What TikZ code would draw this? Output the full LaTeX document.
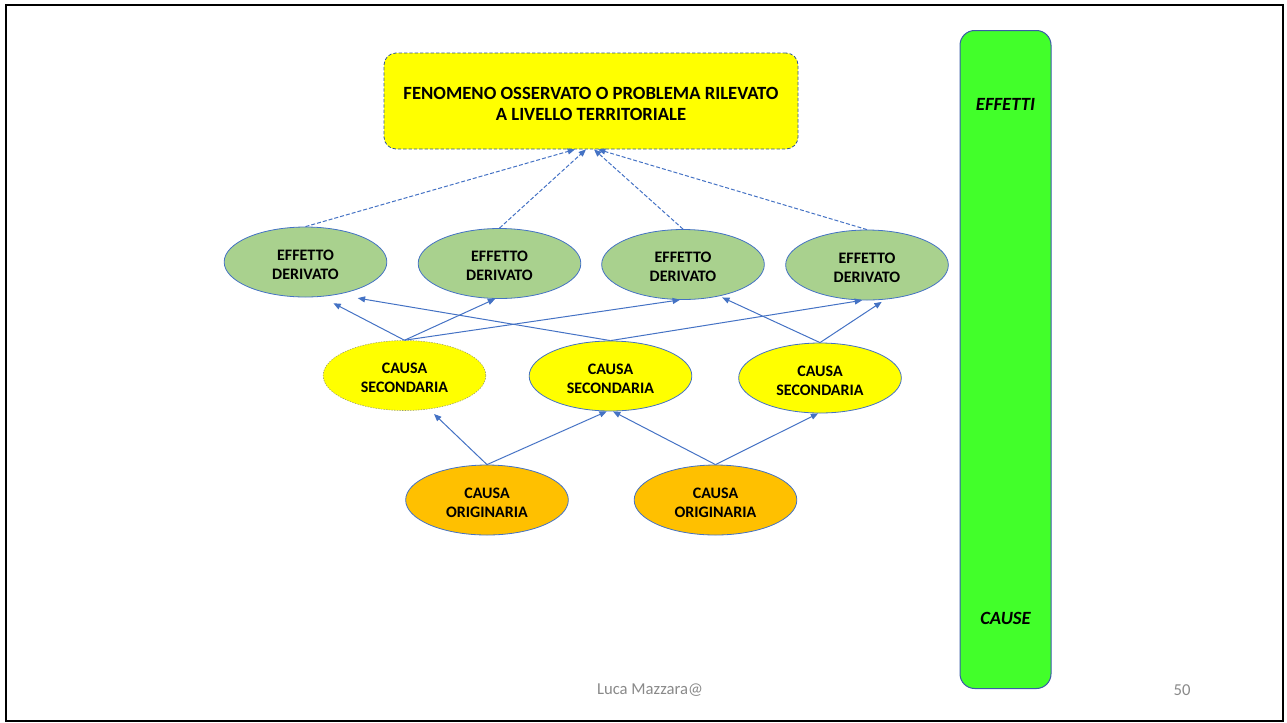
\documentclass[tikz,border=0pt]{standalone}
\usepackage{fontspec}
\setmainfont{Carlito}
\usetikzlibrary{arrows.meta,shapes.geometric}

\definecolor{linkblue}{HTML}{4472C4}
\definecolor{boxblue}{HTML}{2F5597}
\definecolor{effgreen}{HTML}{A9D18E}
\definecolor{causeyellow}{HTML}{FFFF00}
\definecolor{origorange}{HTML}{FFC000}
\definecolor{bargreen}{HTML}{42FF2A}
\definecolor{barblue}{HTML}{3A5BA8}
\definecolor{footgray}{HTML}{898989}

% strut that lowers a two-line label slightly inside its shape
\newcommand{\toplift}[1]{\rule{0pt}{#1}}

\tikzset{
  bubble/.style={ellipse, inner sep=0pt, minimum width=122pt, minimum height=52.5pt,
    draw=linkblue, line width=0.6pt, align=center,
    font=\fontsize{12}{14.25}\selectfont\bfseries},
  effectnode/.style={bubble, fill=effgreen},
  secnode/.style={bubble, fill=causeyellow},
  orignode/.style={bubble, fill=origorange},
  link/.style={draw=linkblue, line width=0.75pt, -{Triangle[length=5.5pt,width=4.5pt]}},
  dashlink/.style={link, dash pattern=on 3pt off 1.5pt},
  footer/.style={text=footgray, font=\fontsize{12.5}{14}\selectfont}
}

\begin{document}
\begin{tikzpicture}[x=0.75pt, y=-0.75pt]
  \useasboundingbox (0,0) rectangle (1287,722);
  % slide frame
  \draw[line width=1.5pt, black] (6,5) rectangle (1282.5,721);

  % observed phenomenon
  \node[rectangle, rounded corners=9pt, fill=causeyellow, draw=boxblue, line width=0.6pt,
        dash pattern=on 2.5pt off 1.5pt, minimum width=310.5pt, minimum height=72pt,
        align=center, font=\fontsize{14}{15.75}\selectfont\bfseries]
    (top) at (591,101) {\toplift{13pt}FENOMENO OSSERVATO O PROBLEMA RILEVATO\\A LIVELLO TERRITORIALE};

  % effects / causes bar
  \node[rectangle, rounded corners=11pt, fill=bargreen, draw=barblue, line width=0.75pt,
        minimum width=68.25pt, minimum height=493.5pt] (bar) at (1005.5,359.5) {};
  \node[font=\fontsize{14}{16}\selectfont\bfseries\itshape] (effetti) at (1005.5,104) {EFFETTI};
  \node[font=\fontsize{14}{16}\selectfont\bfseries\itshape] (cause) at (1005.5,618) {CAUSE};

  % derived effects
  \node[effectnode] (e1) at (305.5,262) {\toplift{12pt}EFFETTO\\DERIVATO};
  \node[effectnode] (e2) at (499.5,263.5) {\toplift{12pt}EFFETTO\\DERIVATO};
  \node[effectnode] (e3) at (683,264.5) {\toplift{12pt}EFFETTO\\DERIVATO};
  \node[effectnode] (e4) at (867,265) {\toplift{12pt}EFFETTO\\DERIVATO};

  % secondary causes
  \node[secnode, draw={rgb,255:red,150;green,150;blue,120}, line width=0.4pt,
        dash pattern=on 1pt off 1pt] (s1) at (404.5,375.5) {\toplift{12pt}CAUSA\\SECONDARIA};
  \node[secnode] (s2) at (610.5,376) {\toplift{12pt}CAUSA\\SECONDARIA};
  \node[secnode] (s3) at (820,378) {\toplift{12pt}CAUSA\\SECONDARIA};

  % original causes
  \node[orignode] (o1) at (487,500) {\toplift{12pt}CAUSA\\ORIGINARIA};
  \node[orignode] (o2) at (715.5,500) {\toplift{12pt}CAUSA\\ORIGINARIA};

  % effects lead to the observed phenomenon
  \draw[dashlink] (e1.north) -- ([xshift=-12pt]top.south);
  \draw[dashlink] (e2.north) -- ([xshift=-3.75pt]top.south);
  \draw[dashlink] (e3.north) -- ([xshift=2.25pt]top.south);
  \draw[dashlink] (e4.north) -- ([xshift=5.25pt]top.south);

  % secondary causes lead to effects
  \draw[link, shorten >=10.5pt] (s1.north) -- (e1.-66);
  \draw[link] (s1.north) -- (e2.263);
  \draw[link] (s1.north) -- (e3.265);
  \draw[link, shorten >=15.75pt] (s2.north) -- (e1.-46.5);
  \draw[link] (s2.north) -- (e4.262);
  \draw[link, shorten >=2.25pt] (s3.north) -- (e3.-41);
  \draw[link, shorten >=3.25pt] (s3.north) -- (e4.-62);

  % original causes lead to secondary causes
  \draw[link, shorten >=5.25pt] (o1.north) -- (s1.-54.5);
  \draw[link] (o1.north) -- (s2.264.5);
  \draw[link] (o2.north) -- (s2.-86);
  \draw[link] (o2.north) -- (s3.267);

  % footer
  \node[footer] (author) at (650,690) {Luca Mazzara@};
  \node[footer] (page) at (1182,690) {50};
\end{tikzpicture}
\end{document}
